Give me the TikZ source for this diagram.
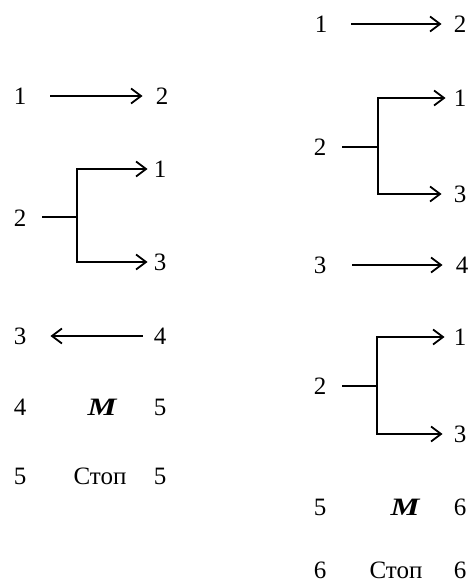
\documentclass[tikz,border=0pt]{standalone}
\usepackage{fontspec}
\setmainfont{Liberation Serif}
\usetikzlibrary{arrows.meta}
\begin{document}
\begin{tikzpicture}[x=1pt,y=-1pt,
  lbl/.style={inner sep=0pt,font=\fontsize{25}{29}\selectfont},
  mlbl/.style={inner sep=0pt,font=\fontsize{25}{29}\selectfont\bfseries\itshape},
  ln/.style={line width=1.8pt},
  arr/.style={ln,-{Straight Barb[length=10pt,width=15pt,line width=1.8pt]}}]
\useasboundingbox (0,0) rectangle (470,584);
% ---------- left column ----------
\node[lbl] (La1) at (20,96) {1};
\node[lbl] (Lb1) at (162,96) {2};
\draw[arr,shorten <=24pt,shorten >=13pt] (La1) -- (Lb1);

\node[lbl] (La2) at (20,218) {2};
\coordinate (Lj2) at (77,217);
\node[lbl] (Lu2) at (160,169) {1};
\node[lbl] (Ld2) at (160,262) {3};
\draw[ln,shorten <=16pt] (La2.east |- Lj2) -- (Lj2);
\draw[arr,shorten >=6pt] (Lj2) |- (Lu2.west);
\draw[arr,shorten >=6pt] (Lj2) |- (Ld2.west);

\node[lbl] (La3) at (20,336) {3};
\node[lbl] (Lb3) at (160,336) {4};
\draw[arr,shorten <=11pt,shorten >=24pt] (Lb3) -- (La3);

\node[lbl] (La4) at (20,407) {4};
\node[mlbl] (Lm4) at (102,407) {\scalebox{1.3}[1]{M}};
\node[lbl] (Lb4) at (160,407) {5};

\node[lbl] (La5) at (20,476) {5};
\node[lbl] (Lm5) at (100,476) {Стоп};
\node[lbl] (Lb5) at (160,476) {5};

% ---------- right column ----------
\node[lbl] (Ra1) at (321,24) {1};
\node[lbl] (Rb1) at (460,24) {2};
\draw[arr,shorten <=24pt,shorten >=12pt] (Ra1) -- (Rb1);

\node[lbl] (Ra2) at (320,147) {2};
\coordinate (Rj2) at (378,147);
\node[lbl] (Ru2) at (460,98) {1};
\node[lbl] (Rd2) at (460,194) {3};
\draw[ln,shorten <=16pt] (Ra2.east) -- (Rj2);
\draw[arr,shorten >=8pt] (Rj2) |- (Ru2.west);
\draw[arr,shorten >=12pt] (Rj2) |- (Rd2.west);

\node[lbl] (Ra3) at (320,265) {3};
\node[lbl] (Rb3) at (462,265) {4};
\draw[arr,shorten <=26pt,shorten >=13pt] (Ra3) -- (Rb3);

\node[lbl] (Ra4) at (320,386) {2};
\coordinate (Rj4) at (377,386);
\node[lbl] (Ru4) at (460,337) {1};
\node[lbl] (Rd4) at (460,434) {3};
\draw[ln,shorten <=16pt] (Ra4.east) -- (Rj4);
\draw[arr,shorten >=9pt] (Rj4) |- (Ru4.west);
\draw[arr,shorten >=11pt] (Rj4) |- (Rd4.west);

\node[lbl] (Ra5) at (320,507) {5};
\node[mlbl] (Rm5) at (405,507) {\scalebox{1.3}[1]{M}};
\node[lbl] (Rb5) at (460,507) {6};

\node[lbl] (Ra6) at (320,570) {6};
\node[lbl] (Rm6) at (396,570) {Стоп};
\node[lbl] (Rb6) at (460,570) {6};
\end{tikzpicture}
\end{document}
